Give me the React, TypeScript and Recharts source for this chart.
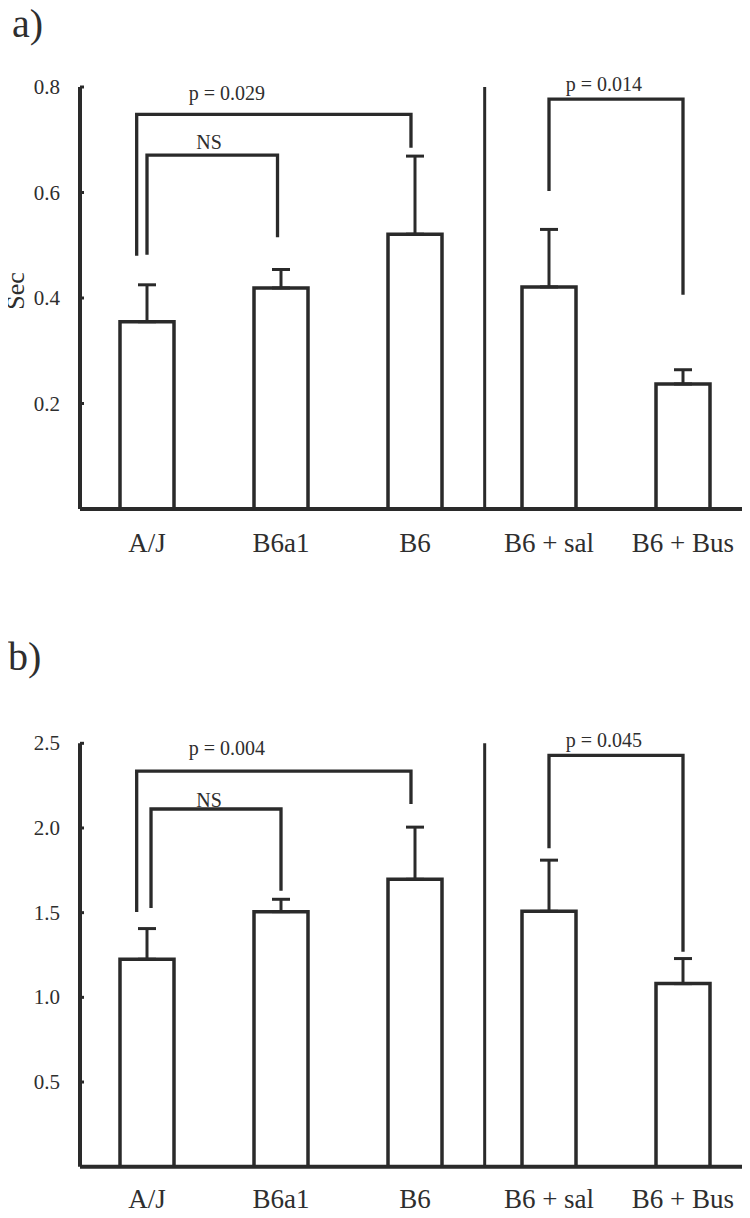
import { Bar, ComposedChart, ErrorBar, Line, ReferenceDot, ReferenceLine, XAxis, YAxis } from "recharts";

const groups = ["A/J", "B6a1", "B6", "B6 + sal", "B6 + Bus"];

// panel a (Sec)
const meansA = [0.355, 0.419, 0.521, 0.421, 0.237];
const semA = [0.07, 0.035, 0.148, 0.109, 0.027];
const ticksA = [0.2, 0.4, 0.6, 0.8];

// panel b
const meansB = [1.225, 1.506, 1.697, 1.508, 1.081];
const semB = [0.181, 0.073, 0.308, 0.302, 0.148];
const ticksB = [0.5, 1.0, 1.5, 2.0, 2.5];

type Bracket = {
  from: number;
  to: number;
  top: number;
  fromEnd: number;
  toEnd: number;
  text: string;
  tx: number;
  ty: number;
};

const bracketsA: Bracket[] = [
  { from: -0.077, to: 1.97, top: 0.748, fromEnd: 0.48, toEnd: 0.685, text: "p = 0.029", tx: 0.597, ty: 0.789 },
  { from: 0, to: 0.974, top: 0.671, fromEnd: 0.482, toEnd: 0.515, text: "NS", tx: 0.463, ty: 0.696 },
  { from: 3, to: 4, top: 0.777, fromEnd: 0.603, toEnd: 0.406, text: "p = 0.014", tx: 3.409, ty: 0.806 },
];

const bracketsB: Bracket[] = [
  { from: -0.077, to: 1.97, top: 2.336, fromEnd: 1.504, toEnd: 2.141, text: "p = 0.004", tx: 0.597, ty: 2.472 },
  { from: 0.03, to: 1, top: 2.112, fromEnd: 1.527, toEnd: 1.629, text: "NS", tx: 0.463, ty: 2.167 },
  { from: 3, to: 4, top: 2.429, fromEnd: 1.881, toEnd: 1.269, text: "p = 0.045", tx: 3.409, ty: 2.519 },
];

const divider = 2.52;

const INK = "#2a2a2a";
const TEXT = "#2e2e2e";
const SERIF = "'Liberation Serif', 'Times New Roman', serif";
const Y_GAP = 20;

function YTick(props: any) {
  const { x, y, payload } = props;
  return (
    <g>
      <line x1={x + Y_GAP} x2={x + Y_GAP + 4} y1={y} y2={y} stroke={INK} strokeWidth={3} />
      <text x={x} y={y} dy={7} textAnchor="end" fill={TEXT} fontSize={21} fontFamily={SERIF}>
        {Number(payload.value).toFixed(1)}
      </text>
    </g>
  );
}

function Panel({
  means,
  sem,
  ticks,
  brackets,
  top,
  axisHeight,
  labelGap,
}: {
  means: number[];
  sem: number[];
  ticks: number[];
  brackets: Bracket[];
  top: number;
  axisHeight: number;
  labelGap: number;
}) {
  const data = groups.map((g, i) => ({ i, name: g, mean: means[i], err: [0, sem[i]] }));
  const max = ticks[ticks.length - 1];
  return (
    <ComposedChart width={750} height={609} data={data} margin={{ top, right: 0, bottom: 0, left: 0 }}>
      <XAxis
        dataKey="i"
        type="number"
        domain={[-0.5, 4.5]}
        allowDataOverflow
        ticks={[0, 1, 2, 3, 4]}
        interval={0}
        tickFormatter={(v: number) => groups[v]}
        height={axisHeight}
        tickLine={false}
        tickSize={0}
        tickMargin={labelGap}
        axisLine={{ stroke: INK, strokeWidth: 4 }}
        tick={{ fill: TEXT, fontSize: 27, fontFamily: SERIF }}
      />
      <XAxis xAxisId="b" dataKey="i" type="number" domain={[-0.5, 4.5]} allowDataOverflow hide />
      <YAxis
        type="number"
        domain={[0, max]}
        allowDataOverflow
        ticks={ticks}
        width={80}
        tickLine={false}
        tickSize={0}
        tickMargin={Y_GAP}
        axisLine={{ stroke: INK, strokeWidth: 4 }}
        tick={<YTick />}
      />
      <ReferenceLine x={divider} xAxisId="b" stroke={INK} strokeWidth={3} />
      <Bar dataKey="mean" barSize={54} fill="#ffffff" stroke={INK} strokeWidth={3.5} isAnimationActive={false}>
        <ErrorBar dataKey="err" direction="y" width={9} stroke={INK} strokeWidth={3} isAnimationActive={false} />
      </Bar>
      {brackets.map((b, k) => (
        <Line
          key={"br" + k}
          xAxisId="b"
          data={[
            { i: b.from, v: b.fromEnd },
            { i: b.from, v: b.top },
            { i: b.to, v: b.top },
            { i: b.to, v: b.toEnd },
          ]}
          dataKey="v"
          type="linear"
          stroke={INK}
          strokeWidth={3.3}
          strokeLinejoin="miter"
          dot={false}
          activeDot={false}
          isAnimationActive={false}
        />
      ))}
      {brackets.map((b, k) => (
        <ReferenceDot
          key={"lb" + k}
          xAxisId="b"
          x={b.tx}
          y={b.ty}
          r={0}
          fill="none"
          stroke="none"
          ifOverflow="visible"
          label={{ value: b.text, position: "center", fill: TEXT, fontSize: 20, fontFamily: SERIF }}
        />
      ))}
    </ComposedChart>
  );
}

export default function App() {
  return (
    <div style={{ position: "relative", width: 750, height: 1218, margin: -8, background: "#fff" }}>
      <div style={{ position: "absolute", left: 0, top: 0 }}>
        <Panel means={meansA} sem={semA} ticks={ticksA} brackets={bracketsA} top={87} axisHeight={100} labelGap={24} />
      </div>
      <div style={{ position: "absolute", left: 0, top: 609 }}>
        <Panel means={meansB} sem={semB} ticks={ticksB} brackets={bracketsB} top={134.3} axisHeight={51.3} labelGap={22} />
      </div>
      <svg
        width={750}
        height={1218}
        style={{ position: "absolute", left: 0, top: 0, pointerEvents: "none" }}
      >
        <text x={12} y={37} fontSize={40} fontFamily={SERIF} fill={TEXT}>
          a)
        </text>
        <text x={8} y={670} fontSize={40} fontFamily={SERIF} fill={TEXT}>
          b)
        </text>
        <text
          x={0}
          y={0}
          transform="translate(24 291) rotate(-90)"
          textAnchor="middle"
          fontSize={26}
          fontFamily={SERIF}
          fill={TEXT}
        >
          Sec
        </text>
      </svg>
    </div>
  );
}
